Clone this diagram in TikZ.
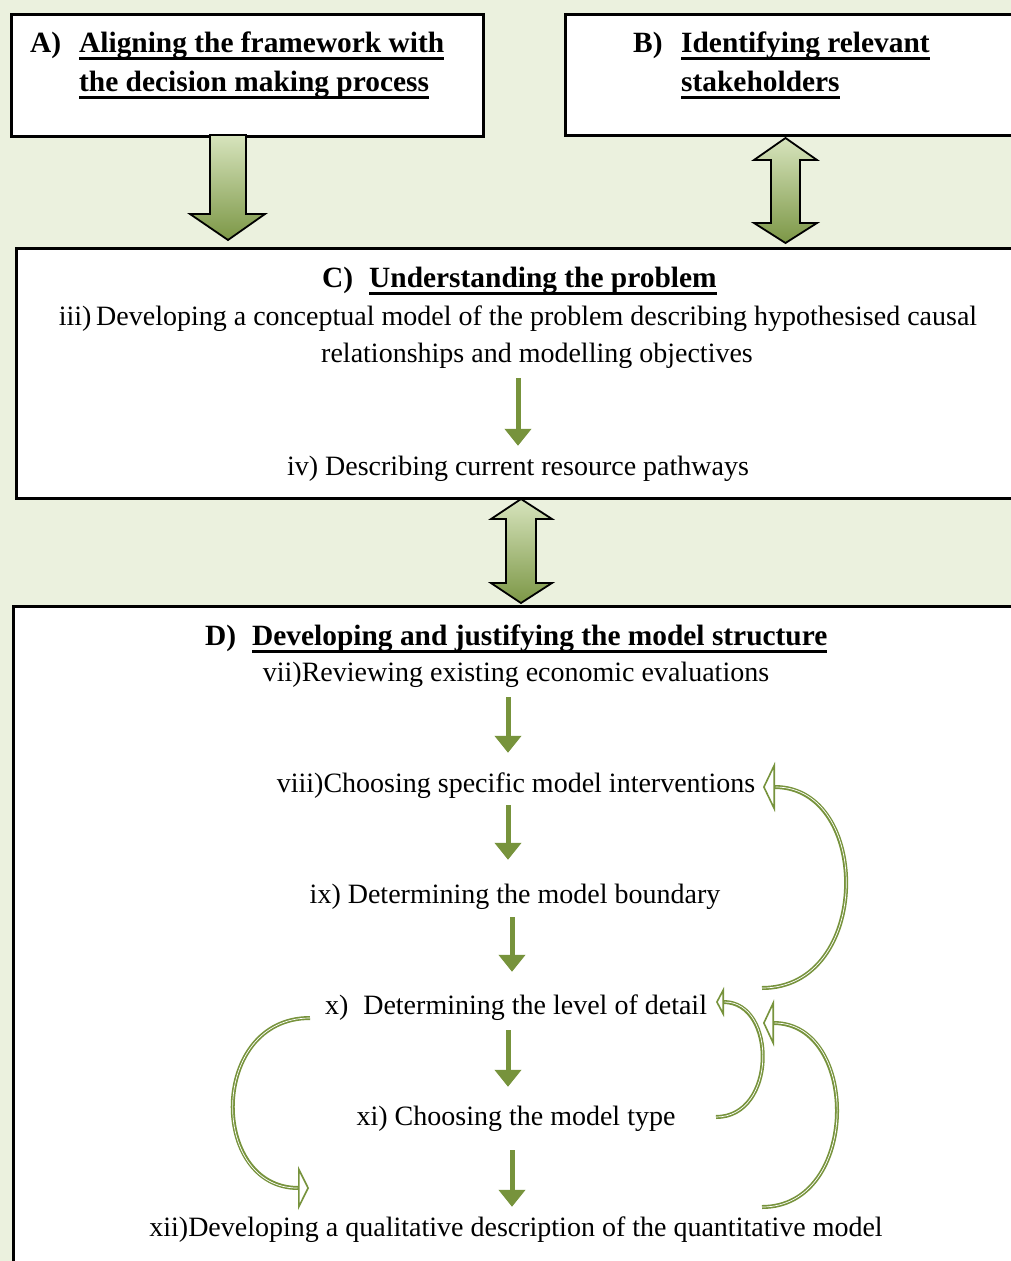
\documentclass[tikz,border=0pt]{standalone}
\usepackage{fontspec}
\setmainfont{Liberation Serif}
\usetikzlibrary{arrows.meta}
\definecolor{grn}{HTML}{77933C}
\definecolor{bgc}{HTML}{EBF1DE}
\definecolor{lgt}{HTML}{D7E4BD}
\definecolor{drk}{HTML}{7C9746}
\newcommand\ulin[1]{\setbox0=\hbox{#1}\rlap{\rule[-0.25em]{\wd0}{0.085em}}\box0}
\tikzset{
  box/.style={draw=black, line width=3pt, fill=white, rectangle, inner sep=0pt, anchor=north west},
  ttl/.style={font=\fontsize{29.4}{35}\selectfont\bfseries, anchor=base west, inner sep=0pt},
  body/.style={font=\fontsize{28}{34}\selectfont, inner sep=0pt, text height=23pt, text depth=4pt},
  flow/.style={draw=grn, line width=5pt, -{Triangle[length=17pt, width=26pt]}},
  blockarr/.style={draw=black, line width=1.8pt, top color=lgt, bottom color=drk, line join=miter},
  loopline/.style={draw=grn, line width=4pt, postaction={draw=white, line width=0.7pt, -, shorten >=#1}}
}
\begin{document}
\begin{tikzpicture}[x=1pt, y=-1pt]
\useasboundingbox (0,0) rectangle (1011,1261);
\clip (0,0) rectangle (1011,1261);
\fill[bgc] (0,0) rectangle (1011,1261);

% boxes
\node[box, minimum width=471.5pt, minimum height=122pt] (boxA) at (10,13) {};
\node[box, minimum width=520pt, minimum height=121pt] (boxB) at (564,13) {};
\node[box, minimum width=1050pt, minimum height=250pt] (boxC) at (14.5,247) {};
\node[box, minimum width=1050pt, minimum height=700pt] (boxD) at (12,605) {};

% block arrows
\path[blockarr] (210,135) -- (246,135) -- (246,214) -- (265,214) -- (228,240) -- (190,214) -- (210,214) -- cycle;
\path[blockarr] (785.5,138) -- (817,160) -- (800,160) -- (800,223) -- (817,223) -- (785.5,243) -- (754,223) -- (771,223) -- (771,160) -- (754,160) -- cycle;
\path[blockarr] (521,499) -- (552,519) -- (536,519) -- (536,583) -- (552,583) -- (521,603) -- (491,583) -- (506,583) -- (506,519) -- (491,519) -- cycle;

% titles
\node[ttl] (Alab) at (30,52.5) {A)};
\node[ttl] (A1) at (79,52.5) {\ulin{Aligning the framework with}};
\node[ttl] (A2) at (79,91.5) {\ulin{the decision making process}};
\node[ttl] (Blab) at (633,52.5) {B)};
\node[ttl] (B1) at (681,52.5) {\ulin{Identifying relevant}};
\node[ttl] (B2) at (681,91.5) {\ulin{stakeholders}};
\node[ttl] (Clab) at (322,287.5) {C)};
\node[ttl] (C1) at (369,287.5) {\ulin{Understanding the problem}};
\node[ttl] (Dlab) at (205,645.5) {D)};
\node[ttl] (D1) at (252,645.5) {\ulin{Developing and justifying the model structure}};

% body texts
\node[body] (iii1) at (518,316) {iii)\,Developing a conceptual model of the problem describing hypothesised causal};
\node[body] (iii2) at (537,353) {relationships and modelling objectives};
\node[body] (iv) at (518,466) {iv) Describing current resource pathways};
\node[body] (s7) at (516,672) {vii)Reviewing existing economic evaluations};
\node[body] (s8) at (516,783) {viii)Choosing specific model interventions};
\node[body] (s9) at (515,894) {ix) Determining the model boundary};
\node[body] (s10) at (516,1005) {x)\hspace{15pt}Determining the level of detail};
\node[body] (s11) at (516,1116) {xi) Choosing the model type};
\node[body] (s12) at (516,1227) {xii)Developing a qualitative description of the quantitative model};

% straight arrows
\draw[flow, shorten <=11.5pt, shorten >=6.5pt] (iv.north |- iii2.south) -- (iv.north);
\draw[flow, shorten <=11.5pt, shorten >=16.5pt] ([xshift=-8pt]s7.south) -- ([xshift=-8pt]s8.north);
\draw[flow, shorten <=8.5pt, shorten >=20.5pt] ([xshift=-8pt]s8.south) -- ([xshift=-7pt]s9.north);
\draw[flow, shorten <=9.5pt, shorten >=19.5pt] ([xshift=-3pt]s9.south) -- ([xshift=-4pt]s10.north);
\draw[flow, shorten <=11.5pt, shorten >=15.5pt] ([xshift=-8pt]s10.south) -- ([xshift=-8pt]s11.north);
\draw[flow, shorten <=20.5pt, shorten >=6.5pt] ([xshift=-4pt]s11.south) -- ([xshift=-4pt]s12.north);

% feedback loops
\coordinate (L1s) at (762,988);
\coordinate (L1e) at (763,787);
\coordinate (L2s) at (716,1117);
\coordinate (L2e) at (716,1002);
\coordinate (L3s) at (762,1207);
\coordinate (L3e) at (763,1023);
\coordinate (L4s) at (310,1018);
\coordinate (L4e) at (309,1188);
\draw[loopline=12.5pt, -{Triangle[open, length=12pt, width=50pt, line width=1.6pt]}] (L1s) .. controls (872,988) and (872,787) .. (L1e);
\draw[loopline=8.5pt, -{Triangle[open, length=8pt, width=30pt, line width=1.6pt]}] (L2s) .. controls (777,1117) and (777,1002) .. (L2e);
\draw[loopline=11.5pt, -{Triangle[open, length=11pt, width=47pt, line width=1.6pt]}] (L3s) .. controls (860,1207) and (860,1023) .. (L3e);
\draw[loopline=11.5pt, -{Triangle[open, length=11pt, width=44pt, line width=1.6pt]}] (L4s) .. controls (209,1018) and (209,1188) .. (L4e);
\end{tikzpicture}
\end{document}
